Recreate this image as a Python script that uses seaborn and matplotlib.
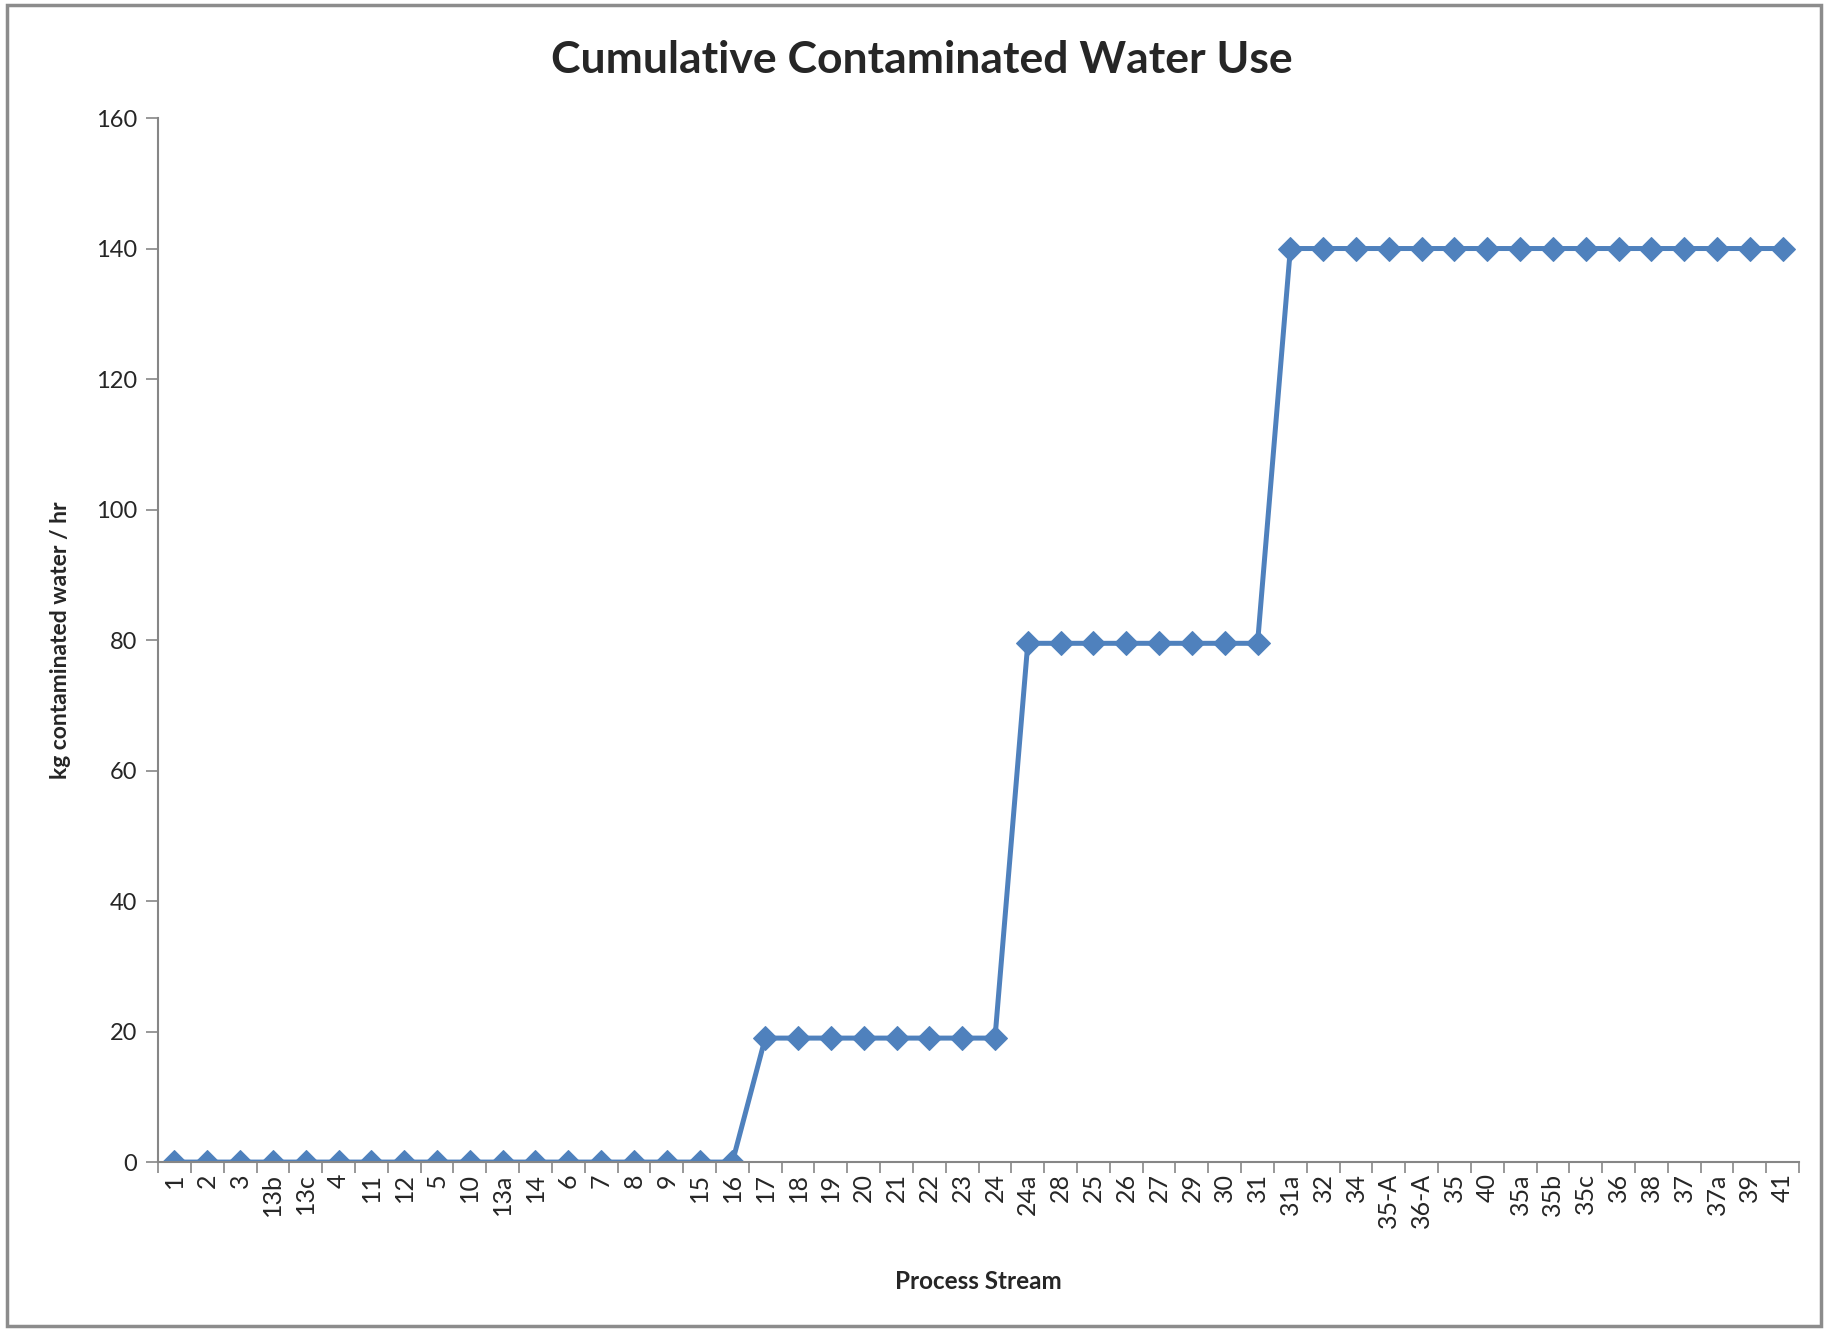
import numpy as np
import matplotlib.pyplot as plt
import seaborn as sns
from matplotlib.patches import Rectangle
from matplotlib.ticker import FixedLocator

# Datos
streams = ["1", "2", "3", "13b", "13c", "4", "11", "12", "5", "10", "13a", "14",
           "6", "7", "8", "9", "15", "16",
           "17", "18", "19", "20", "21", "22", "23", "24",
           "24a", "28", "25", "26", "27", "29", "30", "31",
           "31a", "32", "34", "35-A", "36-A", "35", "40", "35a", "35b", "35c",
           "36", "38", "37", "37a", "39", "41"]
water_use = [0.0] * 18 + [19.0] * 8 + [79.5] * 8 + [140.0] * 16
y_ticks = [0, 20, 40, 60, 80, 100, 120, 140, 160]

sns.set_theme(style="white")
plt.rcParams["font.family"] = ["Lato", "DejaVu Sans"]

AXIS_GREY = "#868686"
LINE_BLUE = "#4F81BD"

fig = plt.figure(figsize=(18.25, 13.29), dpi=100)
ax = fig.add_axes([0.0866, 0.1256, 0.8992, 0.7856])

pos = np.arange(len(streams))
sns.lineplot(x=pos, y=water_use, ax=ax, color=LINE_BLUE, linewidth=3.6,
             marker="D", markersize=12, markeredgecolor=LINE_BLUE)

ax.set_xlim(-0.5, len(streams) - 0.5)
ax.set_ylim(0, 160)
ax.set_yticks(y_ticks)
ax.set_xticks(pos)
ax.set_xticklabels(streams, rotation=90, fontsize=18)
ax.xaxis.set_minor_locator(FixedLocator(np.arange(len(streams) + 1) - 0.5))
ax.tick_params(axis="x", which="major", length=0, pad=8)
ax.tick_params(axis="x", which="minor", length=8, width=1.2, color=AXIS_GREY,
               direction="out", bottom=True)
ax.tick_params(axis="y", which="major", length=9, width=1.2, color=AXIS_GREY,
               direction="out", left=True, labelsize=17, pad=6)

for side in ["top", "right"]:
    ax.spines[side].set_visible(False)
for side in ["left", "bottom"]:
    ax.spines[side].set_color(AXIS_GREY)
    ax.spines[side].set_linewidth(1.5)

ax.set_xlabel("Process Stream", fontsize=17.5, fontweight="bold", labelpad=30)
ax.set_ylabel("kg contaminated water / hr", fontsize=16.5, fontweight="bold", labelpad=18)
fig.suptitle("Cumulative Contaminated Water Use", fontsize=32, fontweight="bold",
             x=0.505, y=0.97)

# Marco exterior del gráfico
fig.patches.append(Rectangle((0.004, 0.002), 0.994, 0.994, transform=fig.transFigure,
                             fill=False, edgecolor="#8c8c8c", linewidth=2.5))

plt.savefig("out.png", dpi=100)
plt.close()
